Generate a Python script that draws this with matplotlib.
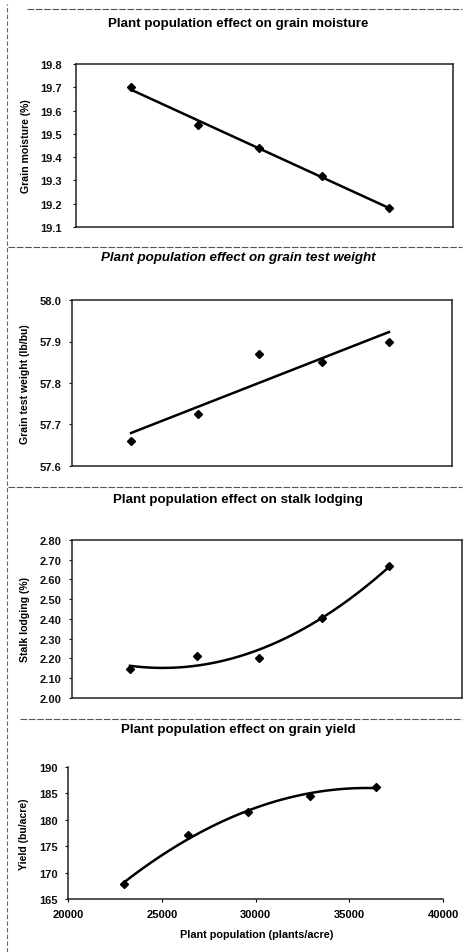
import numpy as np
import matplotlib
matplotlib.use("Agg")
import matplotlib.pyplot as plt
from matplotlib.lines import Line2D

plt.rcParams['font.family'] = ['Liberation Sans', 'DejaVu Sans']

# ---- data ----
population = [23000, 26500, 29700, 33000, 36500]
yield_pop = [23000, 26400, 29600, 32900, 36400]

moisture = [19.70, 19.54, 19.44, 19.32, 19.18]
test_weight = [57.66, 57.725, 57.87, 57.85, 57.90]
lodging = [2.145, 2.215, 2.205, 2.405, 2.67]
grain_yield = [167.8, 177.2, 181.5, 184.5, 186.3]

titles = ["Plant population effect on grain moisture",
          "Plant population effect on grain test weight",
          "Plant population effect on stalk lodging",
          "Plant population effect on grain yield"]
ylabels = ["Grain moisture (%)", "Grain test weight (lb/bu)",
           "Stalk lodging (%)", "Yield (bu/acre)"]
xlabel = "Plant population (plants/acre)"

moisture_ticks = [19.1, 19.2, 19.3, 19.4, 19.5, 19.6, 19.7, 19.8]
weight_ticks = [57.6, 57.7, 57.8, 57.9, 58.0]
lodging_ticks = [2.00, 2.10, 2.20, 2.30, 2.40, 2.50, 2.60, 2.70, 2.80]
yield_ticks = [165, 170, 175, 180, 185, 190]
x_ticks = [20000, 25000, 30000, 35000, 40000]

W, H = 464, 953
fig = plt.figure(figsize=(W / 100, H / 100), dpi=100)
fig.patch.set_facecolor('white')


def ax_at(left, right, top, bottom):
    return fig.add_axes([left / W, 1 - bottom / H, (right - left) / W, (bottom - top) / H])


def fig_text(x, y, s, **kw):
    fig.text(x / W, 1 - y / H, s, **kw)


def hline(y, x0, x1):
    fig.add_artist(Line2D([x0 / W, x1 / W], [1 - y / H, 1 - y / H], color='#555555',
                          lw=0.8, ls=(0, (6, 1.5)), transform=fig.transFigure))


# separators / frame
hline(10, 27, 462)
hline(248, 8, 462)
hline(488, 8, 462)
hline(720, 20, 462)
fig.add_artist(Line2D([7 / W, 7 / W], [0, 1 - 5 / H], color='#666666', lw=0.8,
                      ls=(0, (4, 2)), transform=fig.transFigure))

specs = [
    dict(box=(76, 453, 65, 228), xlim=(20120, 39850), x=population, y=moisture,
         ticks=moisture_ticks, fmt="{:.1f}", deg=1, title_y=24, ylabel_x=26,
         italic=False, full=True, pad=8),
    dict(box=(72, 452, 301, 467), xlim=(19910, 39800), x=population, y=test_weight,
         ticks=weight_ticks, fmt="{:.1f}", deg=1, title_y=258, ylabel_x=25,
         italic=True, full=True, pad=5),
    dict(box=(72, 462, 541, 699), xlim=(19980, 40300), x=population, y=lodging,
         ticks=lodging_ticks, fmt="{:.2f}", deg=2, title_y=500, ylabel_x=25,
         italic=False, full=True, pad=5),
    dict(box=(68, 443, 768, 900), xlim=(20000, 40000), x=yield_pop, y=grain_yield,
         ticks=yield_ticks, fmt="{:.0f}", deg=2, title_y=730, ylabel_x=24,
         italic=False, full=False, pad=5),
]

for i, sp in enumerate(specs):
    l, r, t, b = sp['box']
    ax = ax_at(l, r, t, b)
    xs = np.array(sp['x'], dtype=float)
    ys = np.array(sp['y'], dtype=float)
    coef = np.polyfit(xs, ys, sp['deg'])
    xx = np.linspace(xs[0], xs[-1], 200)
    ax.plot(xx, np.polyval(coef, xx), color='black', lw=1.8, zorder=2)
    ax.plot(xs, ys, ls='none', marker='D', ms=4.2, color='black', zorder=3)
    ax.set_xlim(*sp['xlim'])
    ax.set_ylim(sp['ticks'][0], sp['ticks'][-1])
    ax.set_yticks(sp['ticks'])
    ax.set_yticklabels([sp['fmt'].format(v) for v in sp['ticks']],
                       fontsize=8, fontweight='bold')
    ax.tick_params(axis='y', direction='out', length=2.5, width=0.8, pad=sp['pad'],
                   colors='#111111')
    for s in ax.spines.values():
        s.set_linewidth(1.1)
        s.set_color('#222222')
    if sp['full']:
        ax.set_xticks([])
    else:
        ax.spines['top'].set_visible(False)
        ax.spines['right'].set_visible(False)
        ax.set_xticks(x_ticks)
        ax.set_xticklabels([str(v) for v in x_ticks], fontsize=8, fontweight='bold')
        ax.tick_params(axis='x', direction='out', length=2.5, width=0.8, pad=5)
        fig_text(257, 935, xlabel, fontsize=7.8, fontweight='bold', ha='center', va='center')
    fig_text(238, sp['title_y'], titles[i], fontsize=9.6, fontweight='bold',
             fontstyle='italic' if sp['italic'] else 'normal', ha='center', va='center')
    fig_text(sp['ylabel_x'], (t + b) / 2, ylabels[i], fontsize=7.6, fontweight='bold',
             rotation=90, ha='center', va='center')

fig.savefig("out.png", dpi=100, facecolor='white')
